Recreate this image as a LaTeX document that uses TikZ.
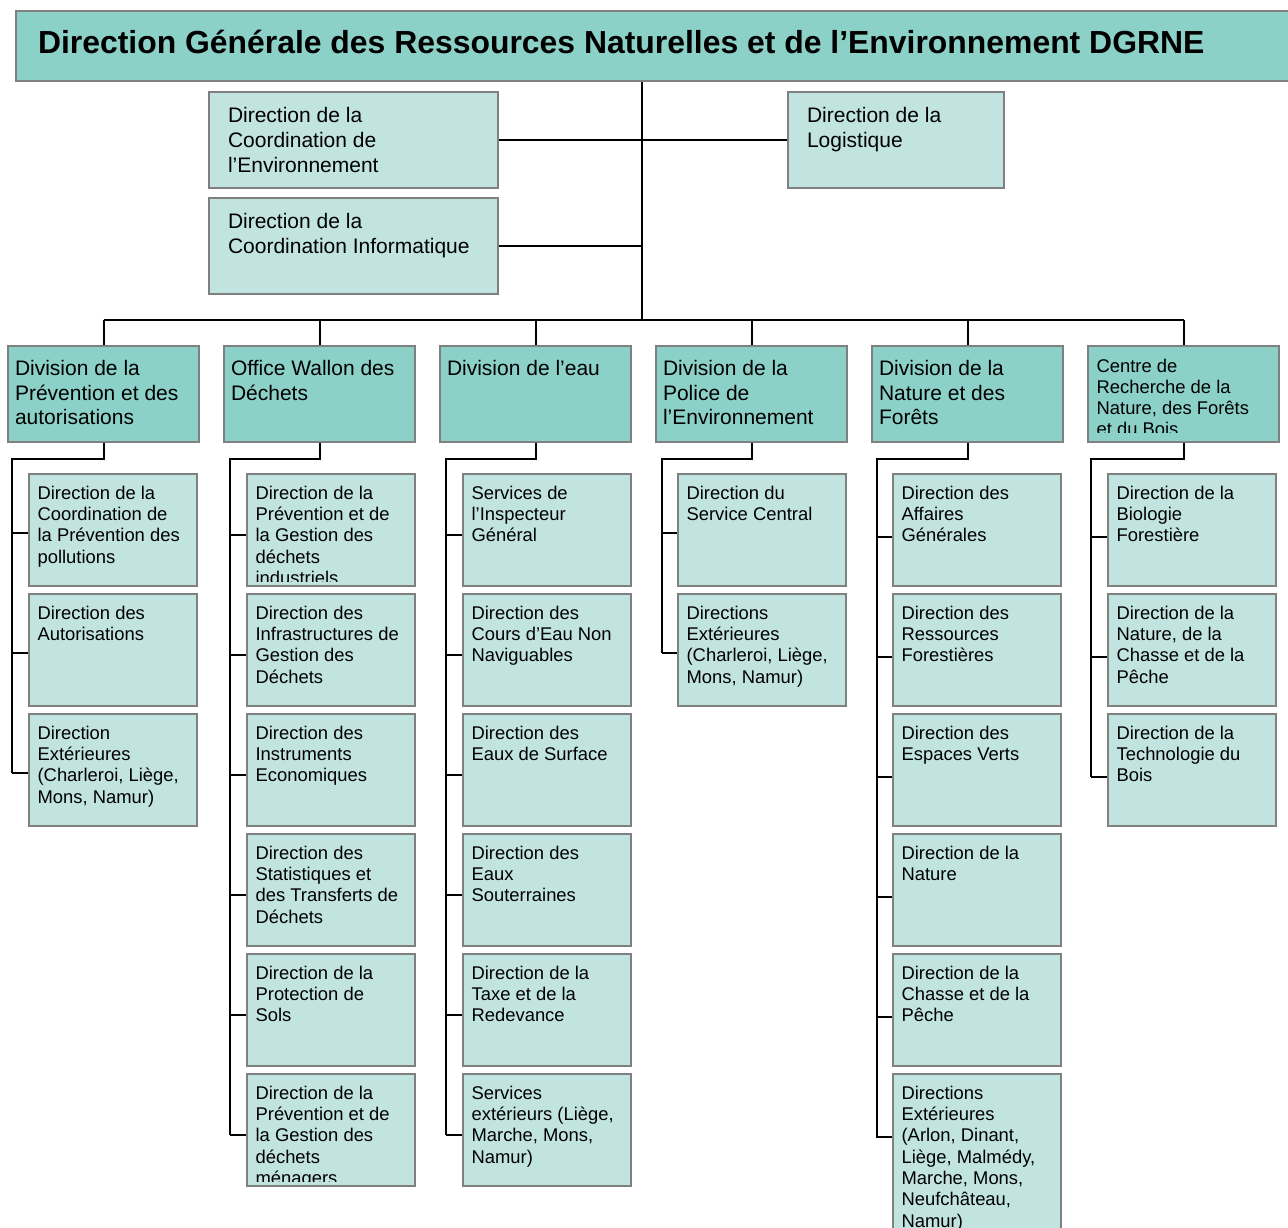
\documentclass[tikz,border=0pt]{standalone}
\usepackage{fontspec}
\setmainfont{Liberation Sans}
\definecolor{divteal}{HTML}{8CD1C8}
\definecolor{subteal}{HTML}{C2E4E0}
\definecolor{boxgray}{HTML}{808080}
\tikzset{
	orgbox/.style={draw=boxgray,line width=1pt,rectangle,inner sep=0pt,anchor=north west},
	link/.style={line width=1pt,black},
	boxtext/.style={anchor=north west,align=left,inner sep=0pt,minimum width=0pt,minimum height=0pt},
	titlebox/.style={orgbox,fill=divteal,minimum width=640pt,minimum height=35pt,
		path picture={\node[boxtext,anchor=west,font=\bfseries\fontsize{15.95}{18}\selectfont] at ([shift={(10.5pt,2pt)}]path picture bounding box.west) {#1};}},
	staffbox/.style={orgbox,fill=subteal,minimum height=48pt,
		path picture={\node[boxtext,font=\fontsize{10.5}{12.4}\selectfont] at ([shift={(9pt,-7.2pt)}]path picture bounding box.north west) {#1};}},
	divbox/.style={orgbox,fill=divteal,minimum width=95.5pt,minimum height=48pt,
		path picture={\node[boxtext,font=\fontsize{10.5}{12.4}\selectfont] at ([shift={(3pt,-6.5pt)}]path picture bounding box.north west) {#1};}},
	centrebox/.style={orgbox,fill=divteal,minimum width=95.5pt,minimum height=48pt,
		path picture={\clip ([yshift=5pt]path picture bounding box.south west) rectangle (path picture bounding box.north east);
			\node[boxtext,font=\fontsize{9.2}{10.5}\selectfont] at ([shift={(3.8pt,-6.2pt)}]path picture bounding box.north west) {#1};}},
	subbox/.style={orgbox,fill=subteal,minimum width=84pt,minimum height=56pt,
		path picture={\clip ([yshift=2.5pt]path picture bounding box.south west) rectangle (path picture bounding box.north east);
			\node[boxtext,font=\fontsize{9.2}{10.67}\selectfont] at ([shift={(3.8pt,-5.4pt)}]path picture bounding box.north west) {#1};}},
}
\begin{document}
\begin{tikzpicture}[x=0.5pt,y=-0.5pt]
	\useasboundingbox (0,0) rectangle (1288,1227);
	% top of the chart
	\node[titlebox={Direction Générale des Ressources Naturelles et de l’Environnement DGRNE}] (dgrne) at (15,10) {};
	\coordinate (hub) at (642,320);
	\node[staffbox={Direction de la\\Coordination de\\l’Environnement},minimum width=144.5pt] (coordenv) at (208,91) {};
	\node[staffbox={Direction de la\\Logistique},minimum width=108pt] (logist) at (787,91) {};
	\node[staffbox={Direction de la\\Coordination Informatique},minimum width=144.5pt] (coordinfo) at (208,197) {};
	\draw[link] (dgrne.south -| hub) -- (hub);
	\draw[link] (coordenv.east) -- (coordenv.east -| hub);
	\draw[link] (logist.west) -- (logist.west -| hub);
	\draw[link] (coordinfo.east) -- (coordinfo.east -| hub);
	
	% divisions
	\node[divbox={Division de la\\Prévention et des\\autorisations}] (div1) at (7,345) {};
	\node[divbox={Office Wallon des\\Déchets}] (div2) at (223,345) {};
	\node[divbox={Division de l’eau}] (div3) at (439,345) {};
	\node[divbox={Division de la\\Police de\\l’Environnement}] (div4) at (655,345) {};
	\node[divbox={Division de la\\Nature et des\\Forêts}] (div5) at (871,345) {};
	\node[centrebox={Centre de\\Recherche de la\\Nature, des Forêts\\et du Bois}] (div6) at (1087,345) {};
	\draw[link] (div1.north |- hub) -- (div6.north |- hub);
	\foreach \d in {1,...,6}{
		\draw[link] (div\d.north) -- (div\d.north |- hub);
	}
	
	% Division de la Prevention et des autorisations
	\coordinate (s1) at (12,459);
	\foreach \t [count=\i] in {{Direction de la\\Coordination  de\\la Prévention  des\\pollutions},
		{Direction des\\Autorisations},
		{Direction\\Extérieures\\(Charleroi, Liège,\\Mons, Namur)}}{
		\node[subbox={\t}] (c1\i) at (28,{473+120*(\i-1)}) {};
		\coordinate (k1\i) at ([yshift=-30pt]c1\i.north west);
		\draw[link] (s1 |- k1\i) -- (k1\i);
	}
	\draw[link] (div1.south) |- (s1) -- (s1 |- k13);
	
	% Office Wallon des Dechets
	\coordinate (s2) at (230,459);
	\foreach \t [count=\i] in {{Direction de la\\Prévention  et de\\la Gestion des\\déchets\\industriels},
		{Direction des\\Infrastructures de\\Gestion des\\Déchets},
		{Direction des\\Instruments\\Economiques},
		{Direction des\\Statistiques et\\des Transferts de\\Déchets},
		{Direction de la\\Protection de\\Sols},
		{Direction de la\\Prévention et de\\la Gestion des\\déchets\\ménagers}}{
		\node[subbox={\t}] (c2\i) at (246,{473+120*(\i-1)}) {};
		\coordinate (k2\i) at ([yshift=-31pt]c2\i.north west);
		\draw[link] (s2 |- k2\i) -- (k2\i);
	}
	\draw[link] (div2.south) |- (s2) -- (s2 |- k26);
	
	% Division de l'eau
	\coordinate (s3) at (446,459);
	\foreach \t [count=\i] in {{Services de\\l’Inspecteur\\Général},
		{Direction des\\Cours d’Eau Non\\Naviguables},
		{Direction des\\Eaux de Surface},
		{Direction des\\Eaux\\Souterraines},
		{Direction de la\\Taxe et de la\\Redevance},
		{Services\\extérieurs (Liège,\\Marche, Mons,\\Namur)}}{
		\node[subbox={\t}] (c3\i) at (462,{473+120*(\i-1)}) {};
		\coordinate (k3\i) at ([yshift=-31pt]c3\i.north west);
		\draw[link] (s3 |- k3\i) -- (k3\i);
	}
	\draw[link] (div3.south) |- (s3) -- (s3 |- k36);
	
	% Division de la Police de l'Environnement
	\coordinate (s4) at (662,459);
	\foreach \t [count=\i] in {{Direction du\\Service Central},
		{Directions\\Extérieures\\(Charleroi, Liège,\\Mons, Namur)}}{
		\node[subbox={\t}] (c4\i) at (677,{473+120*(\i-1)}) {};
		\coordinate (k4\i) at ([yshift=-30pt]c4\i.north west);
		\draw[link] (s4 |- k4\i) -- (k4\i);
	}
	\draw[link] (div4.south) |- (s4) -- (s4 |- k42);
	
	% Division de la Nature et des Forets
	\coordinate (s5) at (877,459);
	\foreach \t [count=\i] in {{Direction des\\Affaires\\Générales},
		{Direction des\\Ressources\\Forestières},
		{Direction des\\Espaces Verts},
		{Direction de la\\Nature},
		{Direction de la\\Chasse et de la\\Pêche}}{
		\node[subbox={\t}] (c5\i) at (892,{473+120*(\i-1)}) {};
		\coordinate (k5\i) at ([yshift=-32pt]c5\i.north west);
		\draw[link] (s5 |- k5\i) -- (k5\i);
	}
	\node[subbox={Directions\\Extérieures\\(Arlon, Dinant,\\Liège, Malmédy,\\Marche, Mons,\\Neufchâteau,\\Namur)},minimum height=85pt] (c56) at (892,1073) {};
	\coordinate (k56) at ([yshift=-32pt]c56.north west);
	\draw[link] (div5.south) |- (s5) |- (k56);
	
	% Centre de Recherche
	\coordinate (s6) at (1091,459);
	\foreach \t [count=\i] in {{Direction de la\\Biologie\\Forestière},
		{Direction de la\\Nature, de la\\Chasse et de la\\Pêche},
		{Direction de la\\Technologie du\\Bois}}{
		\node[subbox={\t}] (c6\i) at (1107,{473+120*(\i-1)}) {};
		\coordinate (k6\i) at ([yshift=-32pt]c6\i.north west);
		\draw[link] (s6 |- k6\i) -- (k6\i);
	}
	\draw[link] (div6.south) |- (s6) -- (s6 |- k63);
\end{tikzpicture}
\end{document}
